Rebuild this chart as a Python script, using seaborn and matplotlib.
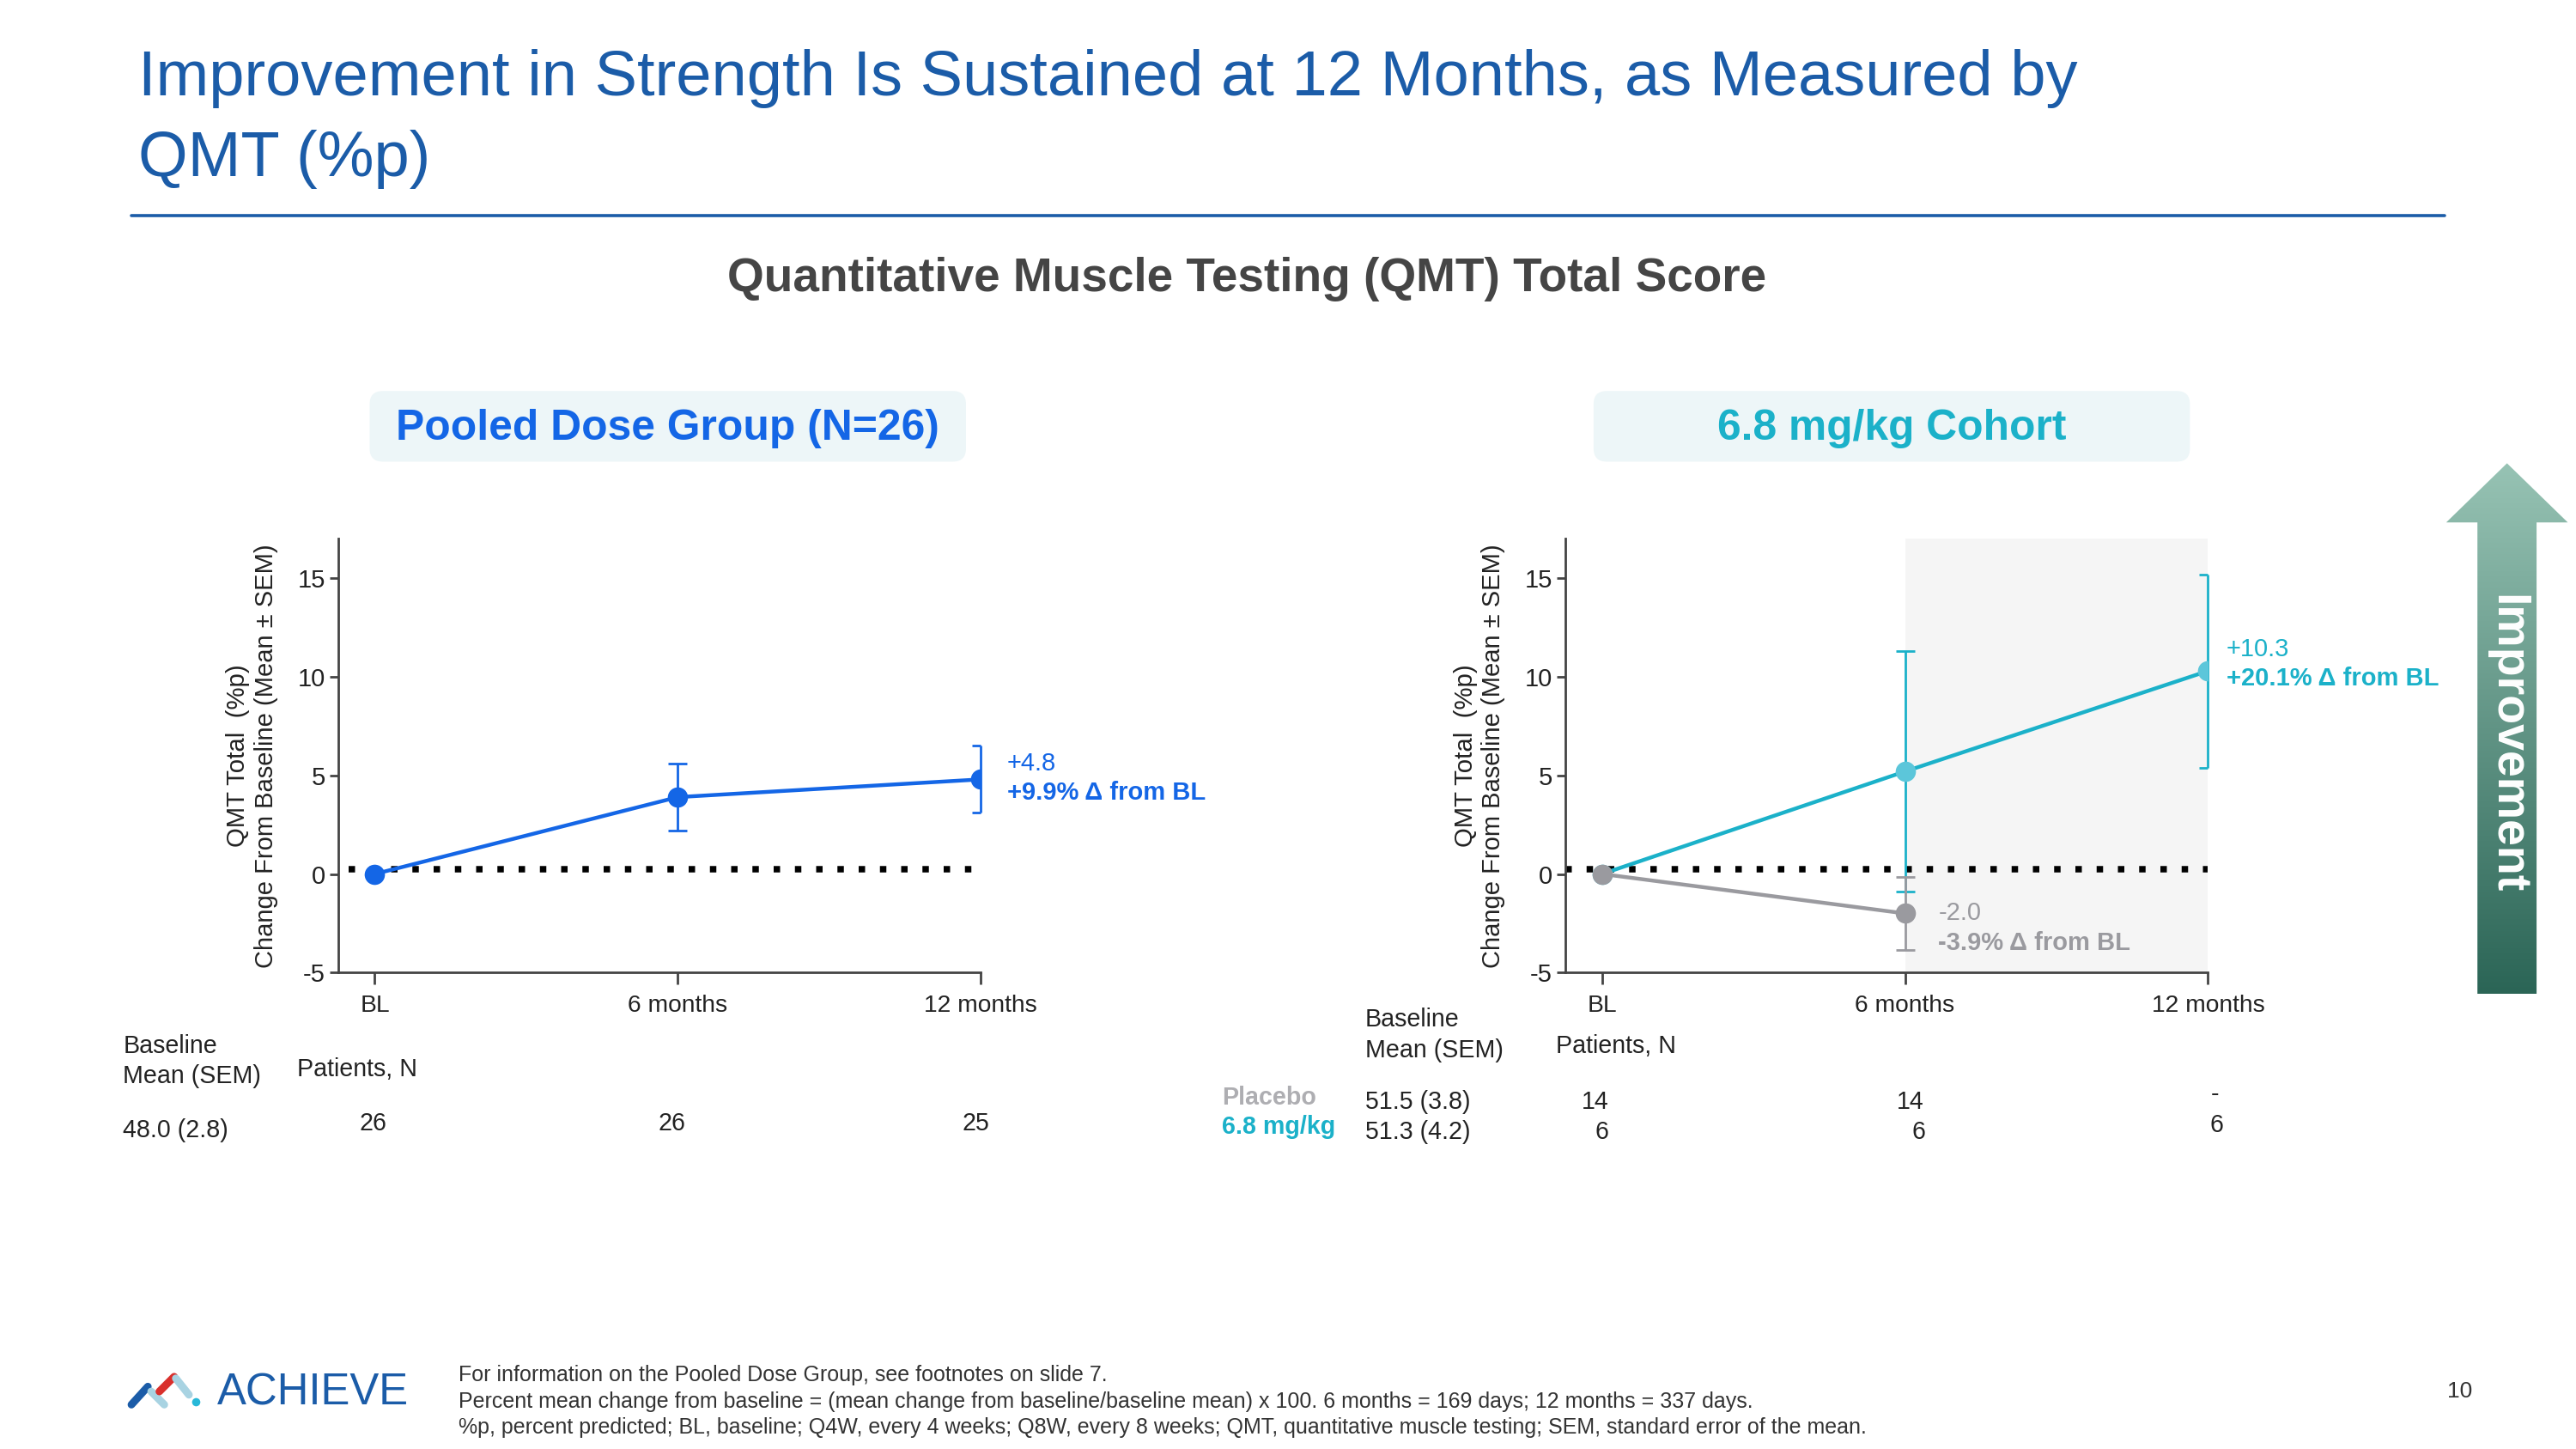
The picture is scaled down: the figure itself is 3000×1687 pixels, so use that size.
import numpy as np
import pandas as pd
import seaborn as sns
import matplotlib.pyplot as plt
from matplotlib.patches import FancyBboxPatch, Polygon
from matplotlib.colors import LinearSegmentedColormap

sns.set_theme(style="ticks")
plt.rcParams['font.family'] = ['Liberation Sans', 'DejaVu Sans']

# ---------------- data ----------------
visits = ['BL', '6 months', '12 months']
visit_pos = [0, 1, 2]

pooled_mean = [0.0, 3.9, 4.8]
pooled_sem = [0.0, 1.7, 1.7]

cohort_mean = [0.0, 5.2, 10.3]
cohort_sem = [0.0, 6.1, 4.9]

placebo_mean = [0.0, -2.0]
placebo_sem = [0.0, 1.85]

pooled_n = ['26', '26', '25']
placebo_n = ['14', '14', '-']
cohort_n = ['6', '6', '6']

pooled_baseline = '48.0 (2.8)'
placebo_baseline = '51.5 (3.8)'
cohort_baseline = '51.3 (4.2)'

# ---------------- colours ----------------
TITLE_BLUE = '#1b5ca8'
BLUE = '#1466e6'
TEAL = '#1bb1c9'
TEAL_MK = '#5cc6da'
GRAY = '#9a9a9f'
DARK = '#222222'

W, H = 1568, 882  # layout grid (slide pixels at half size)


def fx(x):
    return x / W


def fy(y):
    return 1 - y / H


fig = plt.figure(figsize=(15, 8.435), dpi=200)

# background layer for the slide furniture
bg = fig.add_axes([0, 0, 1, 1])
bg.set_xlim(0, W)
bg.set_ylim(H, 0)
bg.axis('off')

bg.text(84, 48, 'Improvement in Strength Is Sustained at 12 Months, as Measured by',
        color=TITLE_BLUE, fontsize=26.7, ha='left', va='center')
bg.text(84, 97, 'QMT (%p)', color=TITLE_BLUE, fontsize=26.7, ha='left', va='center')
bg.plot([80, 1488], [131, 131], color=TITLE_BLUE, lw=1.3)

bg.text(759, 170, 'Quantitative Muscle Testing (QMT) Total Score', color='#454545',
        fontsize=19.8, fontweight='bold', ha='center', va='center')

for x0, x1, label, col in [(225, 588, 'Pooled Dose Group (N=26)', BLUE),
                           (970, 1333, '6.8 mg/kg Cohort', TEAL)]:
    box = FancyBboxPatch((x0, 238), x1 - x0, 43,
                         boxstyle='round,pad=0,rounding_size=8',
                         fc='#edf6f8', ec='none')
    bg.add_patch(box)
    bg.text((x0 + x1) / 2, 261, label, color=col, fontsize=17.9, fontweight='bold',
            ha='center', va='center')

# improvement arrow with a gradient fill
arrow_pts = [(1526, 282), (1563, 318), (1544, 318), (1544, 605),
             (1508, 605), (1508, 318), (1489, 318)]
arrow = Polygon(arrow_pts, closed=True, fc='none', ec='none')
bg.add_patch(arrow)
grad_cmap = LinearSegmentedColormap.from_list('arr', ['#2b6556', '#97c3b4'])
grad = np.linspace(1, 0, 256).reshape(-1, 1)
im = bg.imshow(grad, cmap=grad_cmap, extent=(1489, 1563, 605, 282),
               aspect='auto', origin='upper')
im.set_clip_path(arrow)
bg.set_xlim(0, W)
bg.set_ylim(H, 0)
bg.text(1526, 453, 'Improvement', color='white', fontsize=20, fontweight='bold',
        rotation=-90, ha='center', va='center')

# logo
bg.plot([80, 90], [855, 844], color='#1b5ca8', lw=3.2, solid_capstyle='round')
bg.plot([92, 100], [847, 855], color='#a8d3e2', lw=3.2, solid_capstyle='round')
bg.plot([97, 106], [847, 838], color='#d9302c', lw=3.2, solid_capstyle='round')
bg.plot([107, 115], [839, 849], color='#a8d3e2', lw=3.2, solid_capstyle='round')
bg.scatter([119], [853], s=12, color='#28b8d8', lw=0)
bg.text(132, 848, 'ACHIEVE', color=TITLE_BLUE, fontsize=18.3, ha='left', va='center')

foot = ['For information on the Pooled Dose Group, see footnotes on slide 7.',
        'Percent mean change from baseline = (mean change from baseline/baseline mean) x 100. '
        '6 months = 169 days; 12 months = 337 days.',
        '%p, percent predicted; BL, baseline; Q4W, every 4 weeks; Q8W, every 8 weeks; '
        'QMT, quantitative muscle testing; SEM, standard error of the mean.']
for i, t in enumerate(foot):
    bg.text(279, 837 + 16 * i, t, color='#333333', fontsize=9.0, ha='left', va='center')
bg.text(1497, 847, '10', color='#333333', fontsize=9.5, ha='center', va='center')


# ---------------- chart panels ----------------
def make_axes(left_px):
    ax = fig.add_axes([fx(left_px), fy(592), 391 / W, (592 - 328) / H])
    ax.set_facecolor('none')
    for s in ['top', 'right']:
        ax.spines[s].set_visible(False)
    for s in ['left', 'bottom']:
        ax.spines[s].set_color('#444444')
        ax.spines[s].set_linewidth(1.0)
    return ax


def finish_axes(ax):
    ax.set_xlim(-0.12, 2.0)
    ax.set_ylim(-5, 17)
    ax.set_xticks(visit_pos)
    ax.set_xticklabels(visits)
    ax.set_yticks([-5, 0, 5, 10, 15])
    ax.set_yticklabels(['-5', '0', '5', '10', '15'])
    ax.tick_params(axis='x', length=5.2, width=1.0, color='#444444', labelsize=10.2,
                   pad=4, labelcolor=DARK)
    ax.tick_params(axis='y', length=3.5, width=1.0, color='#444444', labelsize=10.5,
                   pad=2, labelcolor=DARK)
    ax.set_xlabel('')
    ax.set_ylabel('')


def draw_series(ax, mean, sem, line_col, mk_col, bracket_last):
    n = len(mean)
    df = pd.DataFrame({'pos': visit_pos[:n], 'mean': mean})
    sns.lineplot(data=df, x='pos', y='mean', color=line_col, lw=1.6, ax=ax,
                 marker='o', markersize=8.5, markerfacecolor=mk_col,
                 markeredgewidth=0, errorbar=None, zorder=4)
    for i in range(1, n):
        lo, hi = mean[i] - sem[i], mean[i] + sem[i]
        if bracket_last and i == n - 1:
            ax.vlines(visit_pos[i], lo, hi, color=line_col, lw=1.0, zorder=3, clip_on=False)
            ax.hlines([lo, hi], visit_pos[i] - 0.03, visit_pos[i], color=line_col,
                      lw=1.0, zorder=3, clip_on=False)
        else:
            ax.errorbar(visit_pos[i], mean[i], yerr=sem[i], color=line_col, lw=1.0,
                        capsize=3.8, capthick=1.0, fmt='none', zorder=3)


def ref_line(ax, x0):
    ax.plot([x0, 2.0], [0.25, 0.25], color='black', lw=2.7,
            linestyle=(0, (1, 2.3)), dash_capstyle='butt', zorder=2, clip_on=False)


# left panel
ax1 = make_axes(206)
ref_line(ax1, -0.087)
draw_series(ax1, pooled_mean, pooled_sem, BLUE, BLUE, True)
finish_axes(ax1)
ax1.text(2.087, 5.6, '+4.8', color=BLUE, fontsize=10.5, ha='left', va='center', clip_on=False)
ax1.text(2.087, 4.1, '+9.9% Δ from BL', color=BLUE, fontsize=10.5, fontweight='bold',
         ha='left', va='center', clip_on=False)

# right panel
ax2 = make_axes(953)
ax2.axvspan(1, 2, color='#f5f5f5', zorder=0, lw=0)
ref_line(ax2, -0.12)
draw_series(ax2, cohort_mean, cohort_sem, TEAL, TEAL_MK, True)
draw_series(ax2, placebo_mean, placebo_sem, GRAY, GRAY, False)
finish_axes(ax2)
ax2.text(2.06, 11.4, '+10.3', color=TEAL, fontsize=10.5, ha='left', va='center', clip_on=False)
ax2.text(2.06, 9.9, '+20.1% Δ from BL', color=TEAL, fontsize=10.5, fontweight='bold',
         ha='left', va='center', clip_on=False)
ax2.text(1.11, -2.0, '-2.0', color=GRAY, fontsize=10.5, ha='left', va='center')
ax2.text(1.11, -3.5, '-3.9% Δ from BL', color=GRAY, fontsize=10.5, fontweight='bold',
         ha='left', va='center')

# y axis titles
for xa, xb in [(145, 162), (892, 909)]:
    fig.text(fx(xa), fy(460), 'QMT Total  (%p)', rotation=90, fontsize=10.6,
             ha='center', va='center', color=DARK)
    fig.text(fx(xb), fy(460), 'Change From Baseline (Mean ± SEM)', rotation=90,
             fontsize=10.5, ha='center', va='center', color=DARK)

# ---------------- patient tables ----------------
TS = 10.3
fig.text(fx(75), fy(646), 'Baseline\nMean (SEM)', fontsize=TS, ha='left', va='center',
         color=DARK, linespacing=1.35)
fig.text(fx(181), fy(651), 'Patients, N', fontsize=TS, ha='left', va='center', color=DARK)
fig.text(fx(75), fy(688), pooled_baseline, fontsize=TS, ha='left', va='center', color=DARK)
for px, n in zip([227, 409, 594], pooled_n):
    fig.text(fx(px), fy(684), n, fontsize=TS, ha='center', va='center', color=DARK)

fig.text(fx(831), fy(630), 'Baseline\nMean (SEM)', fontsize=TS, ha='left', va='center',
         color=DARK, linespacing=1.35)
fig.text(fx(947), fy(637), 'Patients, N', fontsize=TS, ha='left', va='center', color=DARK)
fig.text(fx(744), fy(668), 'Placebo', fontsize=TS, fontweight='bold', ha='left',
         va='center', color='#aeaeb2')
fig.text(fx(744), fy(686), '6.8 mg/kg', fontsize=TS, fontweight='bold', ha='left',
         va='center', color=TEAL)
fig.text(fx(831), fy(671), placebo_baseline, fontsize=TS, ha='left', va='center', color=DARK)
fig.text(fx(831), fy(689), cohort_baseline, fontsize=TS, ha='left', va='center', color=DARK)
for px, py, n in zip([971, 1163, 1348], [671, 671, 666], placebo_n):
    fig.text(fx(px), fy(py), n, fontsize=TS, ha='center', va='center', color=DARK)
for px, py, n in zip([975, 1168, 1349], [689, 689, 685], cohort_n):
    fig.text(fx(px), fy(py), n, fontsize=TS, ha='center', va='center', color=DARK)

fig.savefig('out.png', dpi=200, facecolor='white')
